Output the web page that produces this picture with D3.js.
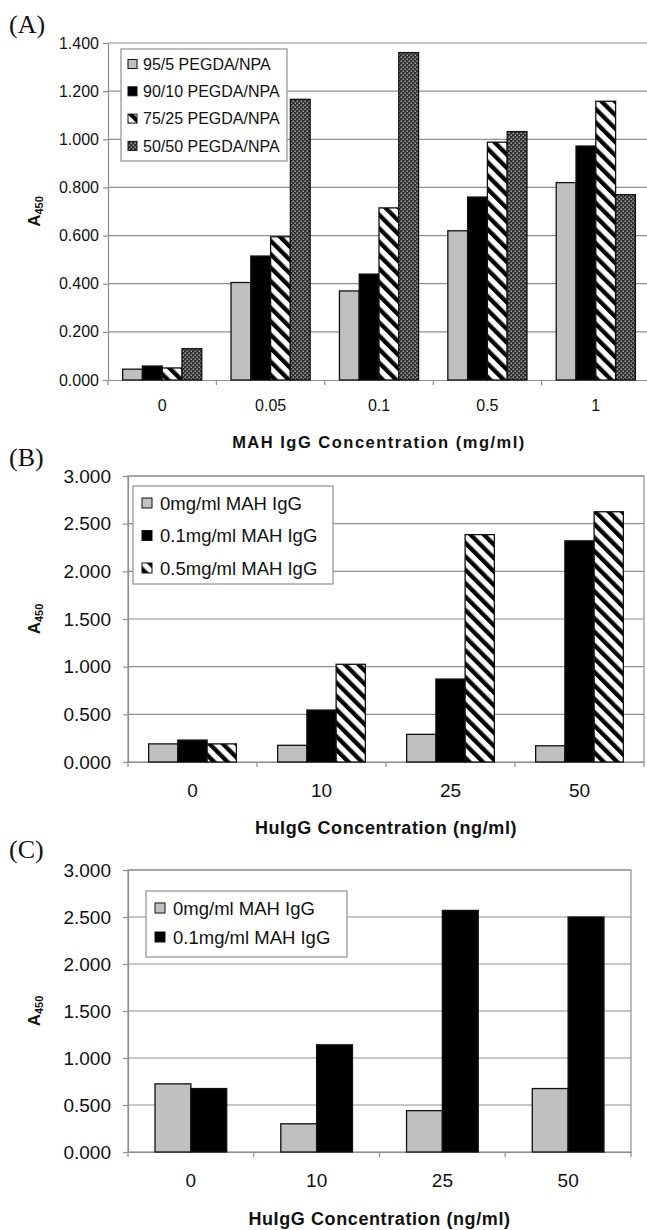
<!DOCTYPE html>
<html>
<head>
<meta charset="utf-8">
<script src="https://cdnjs.cloudflare.com/ajax/libs/d3/7.8.5/d3.min.js"></script>
<style>
  html, body { margin: 0; padding: 0; background: #fff; }
  svg { display: block; }
</style>
</head>
<body>
<div id="chart"></div>
<script>
// Panel A - MAH IgG concentration
const aCategories = ['0', '0.05', '0.1', '0.5', '1'];
const aSeries = ['95/5 PEGDA/NPA', '90/10 PEGDA/NPA', '75/25 PEGDA/NPA', '50/50 PEGDA/NPA'];
const aValues = [
    [0.045, 0.405, 0.370, 0.620, 0.820],
    [0.058, 0.515, 0.440, 0.760, 0.972],
    [0.050, 0.595, 0.715, 0.988, 1.158],
    [0.130, 1.166, 1.360, 1.032, 0.770]
];
const aTicks = [0, 0.2, 0.4, 0.6, 0.8, 1.0, 1.2, 1.4];

// Panel B - HuIgG concentration, three MAH levels
const bCategories = ['0', '10', '25', '50'];
const bSeries = ['0mg/ml MAH IgG', '0.1mg/ml MAH IgG', '0.5mg/ml MAH IgG'];
const bValues = [
    [0.190, 0.175, 0.290, 0.170],
    [0.230, 0.545, 0.870, 2.320],
    [0.190, 1.025, 2.385, 2.625]
];
const bTicks = [0, 0.5, 1.0, 1.5, 2.0, 2.5, 3.0];

// Panel C - HuIgG concentration, two MAH levels
const cCategories = ['0', '10', '25', '50'];
const cSeries = ['0mg/ml MAH IgG', '0.1mg/ml MAH IgG'];
const cValues = [
    [0.725, 0.300, 0.440, 0.675],
    [0.675, 1.140, 2.570, 2.500]
];
const cTicks = [0, 0.5, 1.0, 1.5, 2.0, 2.5, 3.0];

const FONT = "Arial, 'Liberation Sans', Helvetica, sans-serif";
const SERIF = "'Times New Roman', 'Liberation Serif', serif";
const GRID = '#8f8f8f';
const FILLS = ['#c0c0c0', '#000', 'url(#hatch)', 'url(#cross)'];

const svg = d3.select('#chart').append('svg')
    .attr('width', 647)
    .attr('height', 1230);

svg.append('rect').attr('width', 647).attr('height', 1230).attr('fill', '#fff');

// Patterns
const defs = svg.append('defs');
const hatch = defs.append('pattern')
    .attr('id', 'hatch')
    .attr('patternUnits', 'userSpaceOnUse')
    .attr('width', 9.5).attr('height', 9.5)
    .attr('patternTransform', 'rotate(-45)');
hatch.append('rect').attr('width', 9.5).attr('height', 9.5).attr('fill', '#fff');
hatch.append('rect').attr('width', 4.3).attr('height', 9.5).attr('fill', '#000');

const cross = defs.append('pattern')
    .attr('id', 'cross')
    .attr('patternUnits', 'userSpaceOnUse')
    .attr('width', 4).attr('height', 4);
cross.append('rect').attr('width', 4).attr('height', 4).attr('fill', '#2e2e2e');
cross.append('rect').attr('x', 0.5).attr('y', 0.5).attr('width', 1.4).attr('height', 1.4).attr('fill', '#b8b8b8');
cross.append('rect').attr('x', 2.5).attr('y', 2.5).attr('width', 1.4).attr('height', 1.4).attr('fill', '#b8b8b8');

function drawPanel(cfg) {
    const g = svg.append('g');
    const x = d3.scaleBand().domain(cfg.categories).range([cfg.left, cfg.right]);
    const y = d3.scaleLinear().domain([0, cfg.yMax]).range([cfg.bottom, cfg.top]);

    // Рамка области построения (только B и C)
    if (cfg.frame) {
        g.append('rect')
            .attr('x', cfg.left).attr('y', cfg.top)
            .attr('width', cfg.right - cfg.left).attr('height', cfg.bottom - cfg.top)
            .attr('fill', 'none').attr('stroke', GRID).attr('stroke-width', 1.2);
    }

    // Сетка
    g.selectAll('.grid')
        .data(cfg.ticks.filter(t => t > 0))
        .join('line')
        .attr('x1', cfg.left).attr('x2', cfg.right)
        .attr('y1', d => y(d)).attr('y2', d => y(d))
        .attr('stroke', GRID).attr('stroke-width', 1.2);

    // Ось Y
    const yAxis = g.append('g')
        .attr('transform', `translate(${cfg.left},0)`)
        .call(d3.axisLeft(y).tickValues(cfg.ticks).tickFormat(d3.format('.3f'))
            .tickSizeOuter(0).tickSizeInner(5).tickPadding(cfg.yPad));
    yAxis.select('.domain').attr('stroke', GRID).attr('stroke-width', 1.2);
    yAxis.selectAll('.tick line').attr('stroke', GRID).attr('stroke-width', 1.2);
    yAxis.selectAll('text')
        .attr('font-family', FONT).attr('font-size', cfg.tickFont).attr('fill', '#111');

    // Ось X: подписи в центрах категорий
    const xAxis = g.append('g')
        .attr('transform', `translate(0,${cfg.bottom})`)
        .call(d3.axisBottom(x).tickSize(0).tickPadding(cfg.xPad));
    xAxis.select('.domain').attr('stroke', GRID).attr('stroke-width', 1.2);
    xAxis.selectAll('text')
        .attr('font-family', FONT).attr('font-size', cfg.tickFont).attr('fill', '#111');

    // Засечки на границах категорий
    const bounds = cfg.categories.map(c => x(c)).concat([cfg.right]);
    g.selectAll('.xtick')
        .data(bounds)
        .join('line')
        .attr('x1', d => d).attr('x2', d => d)
        .attr('y1', cfg.bottom).attr('y2', cfg.bottom + 5)
        .attr('stroke', GRID).attr('stroke-width', 1.2);

    // Столбцы
    const groupW = x.bandwidth() * cfg.groupRatio;
    const inner = d3.scaleBand().domain(d3.range(cfg.series.length)).range([0, groupW]);
    cfg.values.forEach((vals, si) => {
        g.selectAll(null)
            .data(vals)
            .join('rect')
            .attr('x', (d, i) => x(cfg.categories[i]) + (x.bandwidth() - groupW) / 2 + inner(si))
            .attr('y', d => y(d))
            .attr('width', inner.bandwidth())
            .attr('height', d => cfg.bottom - y(d))
            .attr('fill', FILLS[si])
            .attr('stroke', '#111')
            .attr('stroke-width', 1.3);
    });

    // Легенда
    const lg = cfg.legend;
    g.append('rect')
        .attr('x', lg.x).attr('y', lg.y).attr('width', lg.w).attr('height', lg.h)
        .attr('fill', '#fff').attr('stroke', GRID).attr('stroke-width', 1.2);
    cfg.series.forEach((name, si) => {
        const cy = lg.firstY + si * lg.step;
        g.append('rect')
            .attr('x', lg.x + lg.swX).attr('y', cy - lg.sw / 2)
            .attr('width', lg.sw).attr('height', lg.sw)
            .attr('fill', FILLS[si]).attr('stroke', '#111').attr('stroke-width', 1);
        g.append('text')
            .attr('x', lg.x + lg.textX).attr('y', cy)
            .attr('dy', '0.36em')
            .attr('font-family', FONT).attr('font-size', lg.font).attr('fill', '#111')
            .text(name);
    });

    // Название оси Y: A450
    const yt = g.append('text')
        .attr('transform', `translate(${cfg.yTitleX},${(cfg.top + cfg.bottom) / 2}) rotate(-90)`)
        .attr('text-anchor', 'middle')
        .attr('font-family', FONT).attr('font-weight', 'bold').attr('fill', '#111');
    yt.append('tspan').attr('font-size', 17).text('A');
    yt.append('tspan').attr('font-size', 11).attr('dy', 3).text('450');

    // Название оси X
    g.append('text')
        .attr('x', (cfg.left + cfg.right) / 2).attr('y', cfg.xTitleY)
        .attr('text-anchor', 'middle')
        .attr('font-family', FONT).attr('font-weight', 'bold')
        .attr('font-size', cfg.xTitleFont).attr('letter-spacing', cfg.xTitleSpacing)
        .attr('fill', '#111')
        .text(cfg.xTitle);

    // Метка панели
    svg.append('text')
        .attr('x', 9).attr('y', cfg.labelY)
        .attr('font-family', SERIF).attr('font-size', 26).attr('fill', '#111')
        .text(cfg.label);
}

drawPanel({
    label: '(A)', labelY: 33,
    categories: aCategories, series: aSeries, values: aValues, ticks: aTicks, yMax: 1.4,
    left: 108, right: 650, top: 43, bottom: 380,
    groupRatio: 0.73, tickFont: 16, yPad: 4, xPad: 20,
    yTitleX: 40,
    xTitle: 'MAH IgG Concentration (mg/ml)', xTitleY: 448, xTitleFont: 16.5, xTitleSpacing: 1.5,
    frame: false,
    legend: { x: 121, y: 49, w: 166, h: 112, firstY: 64, step: 27.3, swX: 7, sw: 9, textX: 22, font: 16 }
});

drawPanel({
    label: '(B)', labelY: 466,
    categories: bCategories, series: bSeries, values: bValues, ticks: bTicks, yMax: 3.0,
    left: 128, right: 644, top: 476, bottom: 762,
    groupRatio: 0.68, tickFont: 19, yPad: 12, xPad: 22,
    yTitleX: 40,
    xTitle: 'HuIgG Concentration (ng/ml)', xTitleY: 834, xTitleFont: 18, xTitleSpacing: 0.6,
    frame: true,
    legend: { x: 133, y: 486, w: 200, h: 98, firstY: 503, step: 32.5, swX: 9, sw: 10, textX: 27, font: 18.5 }
});

drawPanel({
    label: '(C)', labelY: 858,
    categories: cCategories, series: cSeries, values: cValues, ticks: cTicks, yMax: 3.0,
    left: 128, right: 631, top: 870, bottom: 1152,
    groupRatio: 0.57, tickFont: 19, yPad: 12, xPad: 22,
    yTitleX: 40,
    xTitle: 'HuIgG Concentration (ng/ml)', xTitleY: 1225, xTitleFont: 18, xTitleSpacing: 0.6,
    frame: true,
    legend: { x: 146, y: 891, w: 201, h: 66, firstY: 908, step: 29, swX: 9, sw: 10, textX: 27, font: 18.5 }
});
</script>
</body>
</html>
